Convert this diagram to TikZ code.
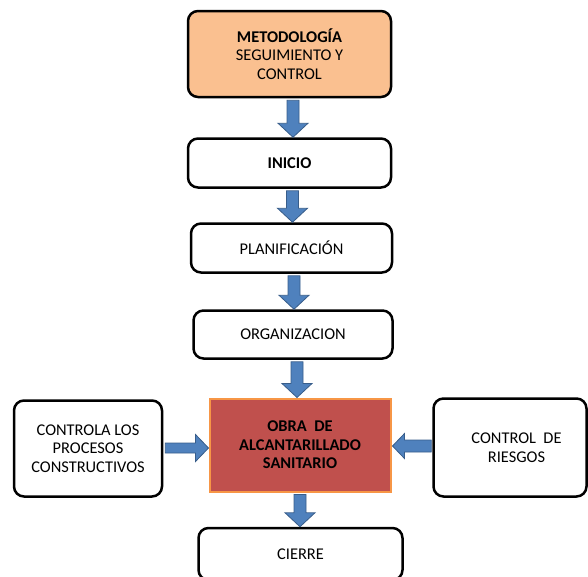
\documentclass[tikz,border=0pt]{standalone}
\usepackage{fontspec}
\setmainfont{Carlito}
\usetikzlibrary{calc}
\definecolor{topfill}{HTML}{FAC090}
\definecolor{obrafill}{HTML}{C0504D}
\definecolor{obraline}{HTML}{F79646}
\definecolor{arrfill}{HTML}{4F81BD}
\definecolor{arrline}{HTML}{385D8A}
\tikzset{
  box/.style={draw=black, line width=2.5pt, rounded corners=10pt, fill=white,
    align=center, inner sep=0pt, font=\fontsize{16.4}{18.5}\selectfont},
  obra/.style={draw=obraline, line width=2pt, fill=obrafill, align=center, inner sep=0pt,
    font=\fontsize{16.4}{18.5}\selectfont\bfseries},
  txt/.style={align=center, inner sep=0pt, font=\fontsize{16.4}{18.5}\selectfont},
  barrow/.style={fill=arrfill, draw=arrline, line width=0.8pt, line join=miter}
}
\newcommand\vArrow[3]{%
  \draw[barrow] ($(#1.south -| #3)+(-6,2)$) -- ($(#1.south -| #3)+(6,2)$)
    -- ($(#2.north -| #3)+(6,-14)$) -- ($(#2.north -| #3)+(15,-14)$)
    -- (#2.north -| #3) -- ($(#2.north -| #3)+(-15,-14)$)
    -- ($(#2.north -| #3)+(-6,-14)$) -- cycle;}
\begin{document}
\begin{tikzpicture}[x=1pt,y=-1pt]
\useasboundingbox (0,0) rectangle (588,576);
\clip (0,0) rectangle (588,576);
% boxes
\node[box, fill=topfill, minimum width=203, minimum height=86] (top) at (289.5,54)
  {\textbf{METODOLOGÍA}\\ SEGUIMIENTO Y\\CONTROL};
\node[box, minimum width=203, minimum height=49] (ini) at (289.5,163) {\textbf{INICIO}};
\node[box, minimum width=201, minimum height=49] (pla) at (291.5,248) {PLANIFICACIÓN};
\node[box, minimum width=199, minimum height=48] (org) at (293,334.5) {ORGANIZACION};
\node[obra, minimum width=181, minimum height=93] (obr) at (300,445)
  {OBRA\ \ DE\\ALCANTARILLADO\\SANITARIO};
\node[box, minimum width=148, minimum height=96] (lef) at (88,448.5)
  {CONTROLA LOS\\PROCESOS\\CONSTRUCTIVOS};
\node[box, minimum width=153, minimum height=98] (rig) at (510,447.5) {};
\node[txt] (rigt) at (516.5,447.5) {CONTROL\ \ DE\\RIESGOS};
\node[box, minimum width=204, minimum height=52] (cie) at (300.5,554) {CIERRE};
% arrow centre lines
\coordinate (c1) at (293,0);
\coordinate (c2) at (292.5,0);
\coordinate (c3) at (294,0);
\coordinate (c4) at (297,0);
\coordinate (c5) at (300,0);
\coordinate (yl) at (0,448);
\coordinate (yr) at (0,446);
\vArrow{top}{ini}{c1}
\vArrow{ini}{pla}{c2}
\vArrow{pla}{org}{c3}
\vArrow{org}{obr}{c4}
\vArrow{obr}{cie}{c5}
% left arrow
\draw[barrow] ($(lef.east |- yl)+(2,-5)$) -- ($(obr.west |- yl)+(-13,-5)$)
  -- ($(obr.west |- yl)+(-13,-13.5)$) -- (obr.west |- yl)
  -- ($(obr.west |- yl)+(-13,13.5)$) -- ($(obr.west |- yl)+(-13,5)$)
  -- ($(lef.east |- yl)+(2,5)$) -- cycle;
% right arrow
\draw[barrow] ($(rig.west |- yr)+(-1,-6)$) -- ($(obr.east |- yr)+(13,-6)$)
  -- ($(obr.east |- yr)+(13,-12.5)$) -- ($(obr.east |- yr)+(1,0)$)
  -- ($(obr.east |- yr)+(13,12.5)$) -- ($(obr.east |- yr)+(13,6)$)
  -- ($(rig.west |- yr)+(-1,6)$) -- cycle;
\end{tikzpicture}
\end{document}
